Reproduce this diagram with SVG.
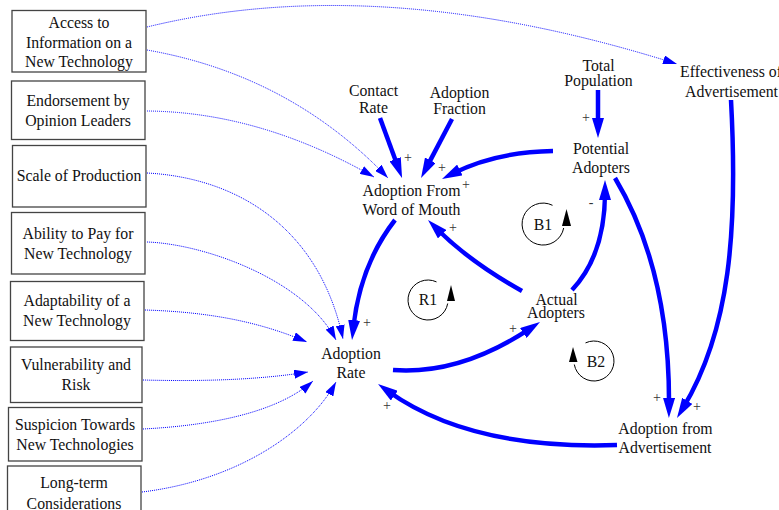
<svg xmlns="http://www.w3.org/2000/svg" width="779" height="510" viewBox="0 0 779 510" font-family="'Liberation Serif', 'Times New Roman', Times, serif">
<defs>
<style>
text{font-family:'Liberation Serif','Times New Roman',Times,serif;font-size:15.8px;fill:#111;text-anchor:middle}
.box{fill:#fff;stroke:#444;stroke-width:1.3}
.thick{fill:none;stroke:#0000ff;stroke-width:4.5;marker-end:url(#ah)}
.dot{fill:none;stroke:#0000ff;stroke-width:1;stroke-dasharray:1 1;marker-end:url(#ad)}
.loop{fill:none;stroke:#000;stroke-width:1}
.sign{font-size:14px;fill:#333}
</style>
<marker id="ah" viewBox="0 0 20 12" refX="8" refY="6" markerWidth="20" markerHeight="12" orient="auto" markerUnits="userSpaceOnUse"><path d="M0,0 L20,6 L0,12 z" fill="#0000ff"/></marker>
<marker id="ad" viewBox="0 0 14 9" refX="14" refY="4.5" markerWidth="14" markerHeight="9" orient="auto" markerUnits="userSpaceOnUse"><path d="M0,0 L14,4.5 L0,9 z" fill="#0000ff"/></marker>
</defs>

<g id="connectors">
<path class="dot" d="M147,27 Q380,-30 677,64"/>
<path class="dot" d="M147,50 Q290,75 388,178"/>
<path class="dot" d="M147,111 Q260,112 374,177"/>
<path class="dot" d="M147,173 C240,178 320,230 343,339"/>
<path class="dot" d="M147,242 C205,244 305,280 336,340"/>
<path class="dot" d="M145,310 C210,312 260,322 307,342"/>
<path class="dot" d="M143,380 C220,382 270,378 308,372"/>
<path class="dot" d="M143,429 C220,425 280,410 313,381"/>
<path class="dot" d="M142,492 C240,480 310,430 336,382"/>

<path class="thick" d="M380,118 L397.9,166.7"/>
<path class="thick" d="M452,119 L426.6,167.4"/>
<path class="thick" d="M553,151 Q495,152 452.7,173.6"/>
<path class="thick" d="M598,90 L598,126"/>
<path class="thick" d="M395,220 Q360,265 353.3,328.1"/>
<path class="thick" d="M393,370 Q460,375 530,328.6"/>
<path class="thick" d="M522,291 Q470,262 436.5,228.5"/>
<path class="thick" d="M572,290 Q605,255 605,192"/>
<path class="thick" d="M615,178 Q670,270 669,406"/>
<path class="thick" d="M731,100 C738,230 730,330 683.2,407.7"/>
<path class="thick" d="M617,445 Q470,450 387.8,391"/>

<text class="sign" x="408" y="162">+</text>
<text class="sign" x="442" y="172">+</text>
<text class="sign" x="466" y="189">+</text>
<text class="sign" x="453" y="232">+</text>
<text class="sign" x="586" y="122">+</text>
<text class="sign" x="591" y="207">-</text>
<text class="sign" x="367" y="327">+</text>
<text class="sign" x="513" y="333">+</text>
<text class="sign" x="387" y="410">+</text>
<text class="sign" x="657" y="402">+</text>
<text class="sign" x="697" y="411">+</text>
</g>

<g id="access"><rect class="box" x="12" y="10.5" width="134" height="61.5"/><text x="79" y="28">Access to</text><text x="79" y="47.5">Information on a</text><text x="79" y="67">New Technology</text></g>
<g id="endorsement"><rect class="box" x="11.5" y="81" width="133.5" height="58.5"/><text x="78" y="106">Endorsement by</text><text x="78" y="126">Opinion Leaders</text></g>
<g id="scale"><rect class="box" x="12.5" y="145.5" width="133.5" height="61.5"/><text x="79" y="181">Scale of Production</text></g>
<g id="ability"><rect class="box" x="11.5" y="212.5" width="133.5" height="61.5"/><text x="78" y="239">Ability to Pay for</text><text x="78" y="258.5">New Technology</text></g>
<g id="adaptability"><rect class="box" x="10.5" y="281.5" width="133.5" height="59"/><text x="77" y="306">Adaptability of a</text><text x="77" y="326">New Technology</text></g>
<g id="vulnerability"><rect class="box" x="10.5" y="347" width="131.5" height="55.5"/><text x="76" y="370">Vulnerability and</text><text x="76" y="389.5">Risk</text></g>
<g id="suspicion"><rect class="box" x="8.5" y="407.5" width="133.5" height="53.5"/><text x="75" y="430">Suspicion Towards</text><text x="75" y="449.5">New Technologies</text></g>
<g id="longterm"><rect class="box" x="7.5" y="466" width="133.5" height="50"/><text x="74" y="488">Long-term</text><text x="74" y="508.5">Considerations</text></g>

<g id="contact-rate"><text x="373.5" y="95.5">Contact</text><text x="373.5" y="113">Rate</text></g>
<g id="adoption-fraction"><text x="459.5" y="98">Adoption</text><text x="459.5" y="114">Fraction</text></g>
<g id="total-population"><text x="598.5" y="70.5">Total</text><text x="598.5" y="86">Population</text></g>
<g id="effectiveness"><text x="731" y="77">Effectiveness of</text><text x="731.5" y="96.5">Advertisement</text></g>
<g id="potential-adopters"><text x="601" y="153.5">Potential</text><text x="601" y="173">Adopters</text></g>
<g id="adoption-wom"><text x="411.5" y="195.5">Adoption From</text><text x="411.5" y="215">Word of Mouth</text></g>
<g id="actual-adopters"><text x="556.5" y="305">Actual</text><text x="556" y="318">Adopters</text></g>
<g id="adoption-rate"><text x="351" y="359">Adoption</text><text x="351" y="377.5">Rate</text></g>
<g id="adoption-adv"><text x="665.5" y="433.5">Adoption from</text><text x="665" y="453">Advertisement</text></g>

<g id="loop-r1"><path class="loop" d="M447.7,303.5 A20,20 0 1 1 436.5,281.9"/><path d="M447,301 L451,285 L455,301 z" fill="#000"/><text x="428" y="305">R1</text></g>
<g id="loop-b1"><path class="loop" d="M563.7,228 A21,21 0 1 1 552.5,205.3"/><path d="M562,226 L566.5,209 L571,226 z" fill="#000"/><text x="543" y="229.5">B1</text></g>
<g id="loop-b2"><path class="loop" d="M574.3,364.5 A20,20 0 1 0 585.5,342.9"/><path d="M569,362 L573,347 L577.5,362 z" fill="#000"/><text x="596" y="366.5">B2</text></g>
</svg>
